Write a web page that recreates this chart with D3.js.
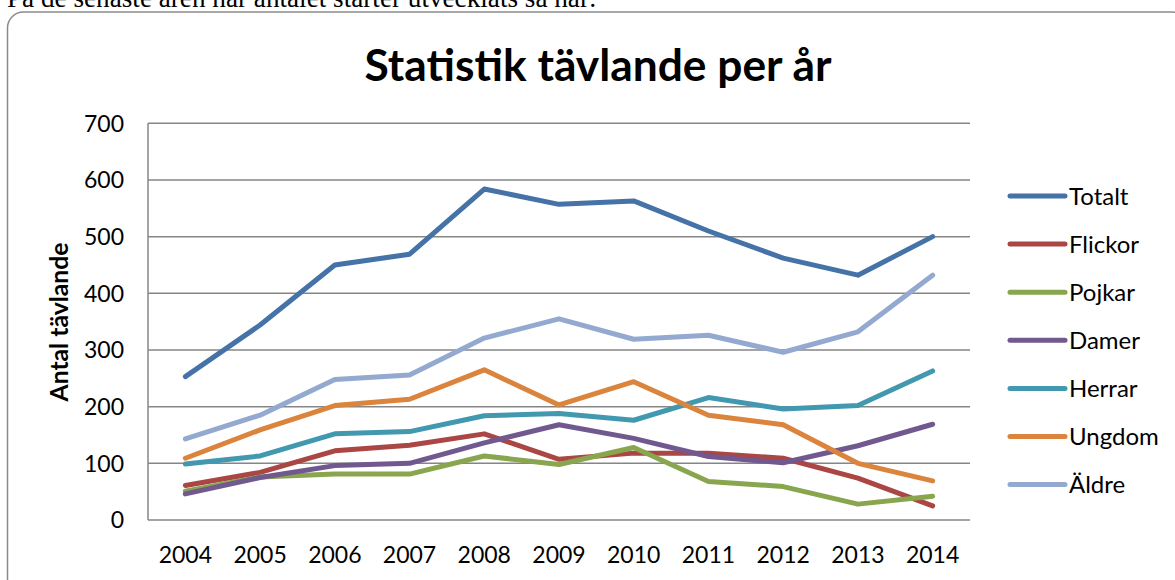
<!DOCTYPE html>
<html>
<head>
<meta charset="utf-8">
<script src="https://cdn.jsdelivr.net/npm/d3@7"></script>
<style>
  html, body { margin: 0; padding: 0; background: #fff; overflow: hidden; }
  svg { display: block; }
</style>
</head>
<body>
<div class="viz"></div>
<script>
// values (antal tävlande per år)
const years = ['2004','2005','2006','2007','2008','2009','2010','2011','2012','2013','2014']
const totalt  = [253, 344, 450, 469, 584, 557, 563, 510, 462, 432, 500]
const flickor = [61, 84, 122, 132, 152, 107, 118, 118, 109, 74, 25]
const pojkar  = [51, 76, 81, 81, 113, 98, 128, 68, 59, 28, 42]
const damer   = [46, 75, 96, 100, 136, 168, 144, 112, 101, 131, 169]
const herrar  = [99, 113, 152, 156, 184, 188, 176, 216, 196, 202, 263]
const ungdom  = [109, 159, 202, 213, 265, 203, 244, 185, 168, 100, 69]
const aldre   = [143, 185, 248, 256, 321, 355, 319, 326, 296, 332, 432]
const seriesNames = ['Totalt','Flickor','Pojkar','Damer','Herrar','Ungdom','Äldre']
const yTicks = [0, 100, 200, 300, 400, 500, 600, 700]

const colors = ['#4572A7','#AA4643','#89A54E','#71588F','#4198AF','#DB843D','#93A9CF']

const width = 1175
const height = 580
const plot = {left: 148, right: 970, top: 123.3, bottom: 520}

const series = [totalt, flickor, pojkar, damer, herrar, ungdom, aldre].map((vals, i) => ({
  name: seriesNames[i],
  color: colors[i],
  values: vals.map((v, j) => ({year: years[j], value: v}))
}))

const svg = d3.select('.viz')
  .append('svg')
  .attr('width', width)
  .attr('height', height)

// squeeze/stretch a text to a given width by changing its font size
const fitText = (sel, target) => {
  const fs = parseFloat(sel.attr('font-size'))
  const len = sel.node().getComputedTextLength()
  sel.attr('font-size', fs * target / len)
}

// the sentence above the chart (cut off at the top, as in the source)
svg.append('text')
  .text('På de senaste åren har antalet starter utvecklats så här:')
  .attr('x', 7)
  .attr('y', 6.5)
  .attr('font-family', '"Liberation Serif", "Times New Roman", serif')
  .attr('font-size', 24)
  .attr('fill', '#000')
  .call(fitText, 590)

// rounded frame
svg.append('rect')
  .attr('x', 7.5)
  .attr('y', 12)
  .attr('width', 1180)
  .attr('height', 620)
  .attr('rx', 16)
  .attr('fill', '#fff')
  .attr('stroke', '#8a8a8a')
  .attr('stroke-width', 1.5)

const x = d3.scaleBand().domain(years).range([plot.left, plot.right])
const y = d3.scaleLinear().domain([0, 700]).range([plot.bottom, plot.top])
const cx = d => x(d) + x.bandwidth() / 2

// title
svg.append('text')
  .text('Statistik tävlande per år')
  .attr('x', 598)
  .attr('y', 81)
  .attr('text-anchor', 'middle')
  .attr('font-family', 'Lato, "Open Sans", sans-serif')
  .attr('font-weight', 700)
  .attr('font-size', 42)
  .attr('fill', '#000')
  .call(fitText, 467)

// gridlines
svg.append('g')
  .selectAll('line')
  .data(yTicks)
  .enter()
  .append('line')
  .attr('x1', plot.left)
  .attr('x2', plot.right)
  .attr('y1', d => y(d))
  .attr('y2', d => y(d))
  .attr('stroke', '#868686')
  .attr('stroke-width', 1.5)

// vertical axis line
svg.append('line')
  .attr('x1', plot.left)
  .attr('x2', plot.left)
  .attr('y1', y(700))
  .attr('y2', y(0))
  .attr('stroke', '#868686')
  .attr('stroke-width', 1.5)

// y tick labels
svg.append('g')
  .selectAll('text')
  .data(yTicks)
  .enter()
  .append('text')
  .text(d => d)
  .attr('x', 124)
  .attr('y', d => y(d))
  .attr('dy', '0.36em')
  .attr('text-anchor', 'end')
  .attr('font-family', 'Lato, sans-serif')
  .attr('font-size', 23)
  .attr('fill', '#000')

// x tick labels
svg.append('g')
  .selectAll('text')
  .data(years)
  .enter()
  .append('text')
  .text(d => d)
  .attr('x', d => cx(d))
  .attr('y', 563)
  .attr('text-anchor', 'middle')
  .attr('font-family', 'Lato, sans-serif')
  .attr('font-size', 23)
  .attr('fill', '#000')

// y axis title
svg.append('text')
  .text('Antal tävlande')
  .attr('transform', 'translate(68, 322) rotate(-90)')
  .attr('text-anchor', 'middle')
  .attr('font-family', 'Lato, sans-serif')
  .attr('font-weight', 700)
  .attr('font-size', 20)
  .attr('fill', '#000')
  .call(fitText, 159)

// the lines
const line = d3.line()
  .x(d => cx(d.year))
  .y(d => y(d.value))

svg.append('g')
  .selectAll('path')
  .data(series)
  .enter()
  .append('path')
  .attr('d', d => line(d.values))
  .attr('fill', 'none')
  .attr('stroke', d => d.color)
  .attr('stroke-width', 5)
  .attr('stroke-linejoin', 'round')
  .attr('stroke-linecap', 'round')

// legend
const legend = svg.append('g')
  .selectAll('g')
  .data(series)
  .enter()
  .append('g')
  .attr('transform', (d, i) => `translate(1010, ${196 + i * 48.1})`)

legend.append('line')
  .attr('x1', 0)
  .attr('x2', 55)
  .attr('stroke', d => d.color)
  .attr('stroke-width', 5)
  .attr('stroke-linecap', 'round')

legend.append('text')
  .text(d => d.name)
  .attr('x', 59)
  .attr('dy', '0.36em')
  .attr('font-family', 'Lato, sans-serif')
  .attr('font-size', 24)
  .attr('fill', '#000')
</script>
</body>
</html>
